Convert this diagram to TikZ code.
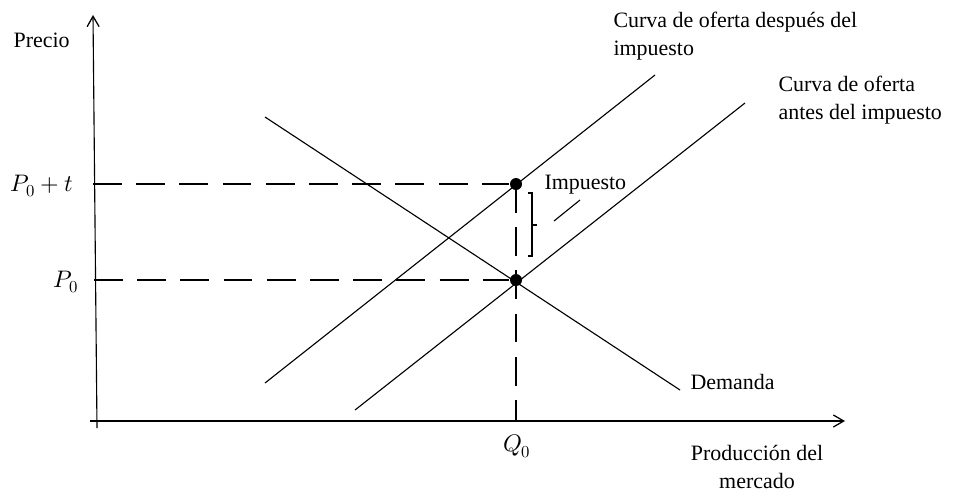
\documentclass[tikz,border=0pt]{standalone}
\usepackage{fontspec}
\usepackage{unicode-math}
\setmainfont{Liberation Serif}
\usetikzlibrary{arrows.meta}
\tikzset{
  txt/.style={font=\fontsize{15.6}{19.5}\selectfont,inner sep=0pt},
  mat/.style={font=\fontsize{17}{20}\selectfont,inner sep=0pt},
  punto/.style={circle,fill,inner sep=0pt,minimum size=0.3cm},
  guia/.style={dash pattern=on 0.72cm off 0.36cm},
  eje/.style={-{Straight Barb[length=0.26cm,width=0.3cm,line width=0.9pt]}}
}
\begin{document}
\begin{tikzpicture}[x=0.025cm,y=-0.025cm,line width=0.8pt]
\useasboundingbox (0,0) rectangle (968,496);
% ejes
\coordinate (y0) at (97,428);
\coordinate (y1) at (93,15);
\coordinate (x0) at (90,421);
\coordinate (x1) at (845,421);
\draw[eje] (y0) -- (y1);
\draw[eje] (x0) -- (x1);
% curvas
\coordinate (d0) at (265,117);
\coordinate (d1) at (680,390);
\coordinate (s0) at (355,410);
\coordinate (s1) at (745,103);
\coordinate (t0) at (265,383);
\coordinate (t1) at (655,75);
\draw (d0) edge (d1);
\draw (s0) edge (s1);
\draw (t0) edge (t1);
% equilibrios
\node[punto] (e0) at (516,280) {};
\node[punto] (e1) at (516,184) {};
\coordinate (a0) at (94,280);
\coordinate (a1) at (93,184);
\coordinate (q0) at (516,421);
\draw[guia] (a1) -- (e1);
\draw[guia] (a0) -- (e0);
\draw[guia] (e1.center) -- (q0);
% llave del impuesto
\coordinate (k0) at (528,193);
\coordinate (k1) at (528,256);
\draw (k0) -- ++(4,0) |- (537,225) (532,225) |- (k1);
\coordinate (m0) at (554,221);
\coordinate (m1) at (580,200);
\draw (m0) -- (m1);
% textos
\node[txt,anchor=west] (lprecio) at (13,40) {Precio};
\node[mat] (lpt) at (42,186) {$P_0+t$};
\node[mat] (lp0) at (66,282) {$P_0$};
\node[mat] (lq0) at (517,446) {$Q_0$};
\node[txt,anchor=west] (limp) at (544,185) {Impuesto};
\node[txt,anchor=west] (ldem) at (690,382) {Demanda};
\node[txt,align=center] (lprod) at (757,467) {Producción del\\mercado};
\node[txt,anchor=west,align=left] (lcd) at (613,36) {Curva de oferta después del\\impuesto};
\node[txt,anchor=west,align=left] (lca) at (778,100) {Curva de oferta\\antes del impuesto};
\end{tikzpicture}
\end{document}
